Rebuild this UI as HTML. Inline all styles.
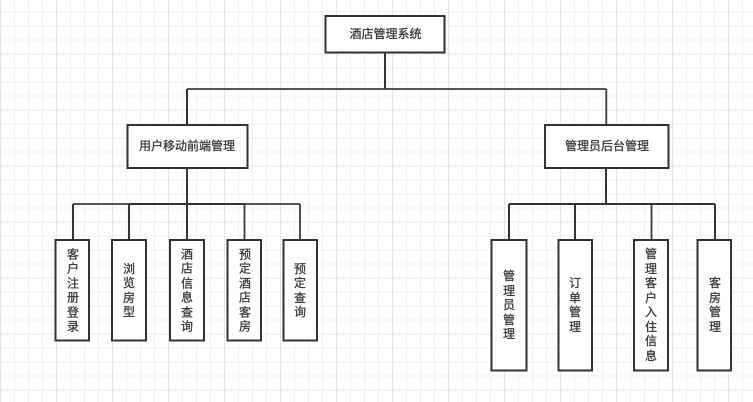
<!DOCTYPE html>
<html lang="zh">
<head>
<meta charset="utf-8">
<style>
html,body{margin:0;padding:0;background:#fff}
#c{position:relative;width:753px;height:402px;overflow:hidden;background:#fff;font-family:"Liberation Sans","Noto Sans CJK SC",sans-serif;font-size:12px;color:#333;-webkit-text-stroke:.25px #333}
svg{position:absolute;left:0;top:0}
.t{position:absolute;text-align:center;white-space:nowrap;transform:translate(-50%,-50%);line-height:14.5px}
</style>
</head>
<body>
<div id="c">
<svg width="753" height="402" viewBox="0 0 753 402">
<defs>
<pattern id="g" width="14" height="14" patternUnits="userSpaceOnUse" patternTransform="translate(0 -2.5)">
<path d="M.5 0V14M0 .5H14" stroke="#f0f0f0" stroke-width="1" fill="none"/>
</pattern>
<pattern id="G" width="56" height="56" patternUnits="userSpaceOnUse" patternTransform="translate(0 -2.5)">
<path d="M.5 0V56M0 .5H56" stroke="#e4e4e4" stroke-width="1" fill="none"/>
</pattern>
</defs>
<rect width="753" height="402" fill="url(#g)"/>
<rect width="753" height="402" fill="url(#G)"/>
<g fill="none" stroke="#333" stroke-width="2">
<path d="M385 53V89M187 89V125"/>
<path d="M187 168V204M73 204V240M129 204V240M187 204V240"/>
<path d="M606 168V204M509 204V240M575 204V240M715 204V240"/>
<path d="M129 204H187M187 204H244M509 204H715"/>
</g>
<g fill="none" stroke="#3c3c3c" stroke-width="1.8">
<path d="M187 89H606.5M606.3 89V125"/>
<path d="M73 204H129M244 204H300M300 204V240M244.5 204V240"/>
<path d="M651.5 204V240"/>
</g>
<g fill="#fff" stroke="#333" stroke-width="2">
<rect x="325.5" y="16" width="119" height="36.5"/>
<rect x="127.5" y="125" width="120" height="43"/>
<rect x="545" y="125" width="123.5" height="43"/>
<rect x="55.5" y="240" width="33.5" height="100.5"/>
<rect x="112" y="240" width="34" height="100.5"/>
<rect x="170" y="240" width="34" height="100.5"/>
<rect x="227.5" y="240" width="33.5" height="100.5"/>
<rect x="283.5" y="240" width="33.5" height="100.5"/>
<rect x="491.5" y="240" width="35" height="130.5"/>
<rect x="558.5" y="240" width="33.5" height="130.5"/>
<rect x="634" y="240" width="34" height="130.5"/>
<rect x="697.5" y="240" width="33.5" height="130.5"/>
</g>
</svg>
<div class="t" style="left:385.5px;top:34px">酒店管理系统</div>
<div class="t" style="left:187px;top:146px">用户移动前端管理</div>
<div class="t" style="left:607px;top:146px">管理员后台管理</div>
<div class="t" style="left:73px;top:290.5px">客<br>户<br>注<br>册<br>登<br>录</div>
<div class="t" style="left:129px;top:290.5px">浏<br>览<br>房<br>型</div>
<div class="t" style="left:187px;top:290.5px">酒<br>店<br>信<br>息<br>查<br>询</div>
<div class="t" style="left:245px;top:290.5px">预<br>定<br>酒<br>店<br>客<br>房</div>
<div class="t" style="left:300px;top:290.5px">预<br>定<br>查<br>询</div>
<div class="t" style="left:509px;top:305px">管<br>理<br>员<br>管<br>理</div>
<div class="t" style="left:575px;top:305px">订<br>单<br>管<br>理</div>
<div class="t" style="left:651px;top:305px">管<br>理<br>客<br>户<br>入<br>住<br>信<br>息</div>
<div class="t" style="left:715px;top:305px">客<br>房<br>管<br>理</div>
</div>
</body>
</html>
